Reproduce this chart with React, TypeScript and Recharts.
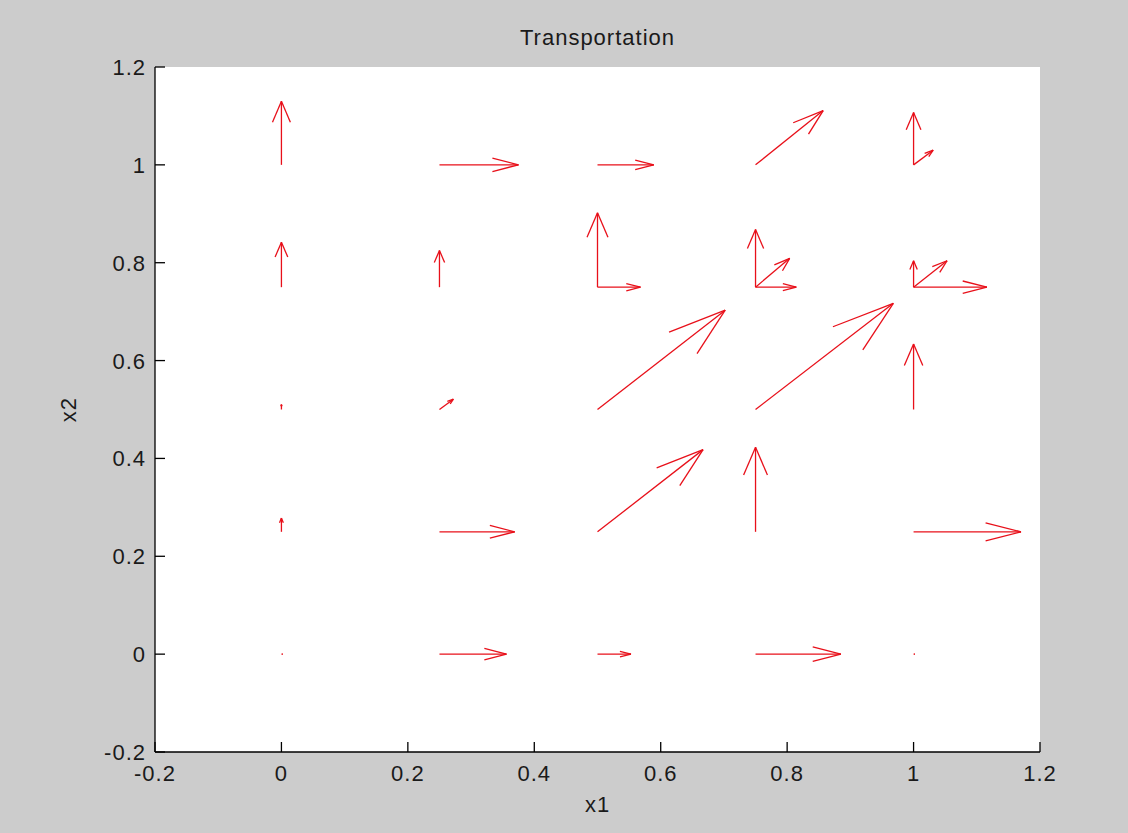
import React from "react";
import { ComposedChart, XAxis, YAxis, CartesianGrid, ReferenceLine, Scatter } from "recharts";

// quiver data: start point (x, y) and vector (u, v)
const startX = [0, 0.25, 0.5, 0.75, 1, 1, 0, 0.25, 0.5, 0.5, 0.75, 0.75, 0.75, 1, 1, 1, 0, 0.25, 0.5, 0.75, 1, 0, 0.25, 0.5, 0.75, 1, 0, 0.25, 0.5, 0.75, 1];
const startY = [1, 1, 1, 1, 1, 1, 0.75, 0.75, 0.75, 0.75, 0.75, 0.75, 0.75, 0.75, 0.75, 0.75, 0.5, 0.5, 0.5, 0.5, 0.5, 0.25, 0.25, 0.25, 0.25, 0.25, 0, 0, 0, 0, 0];
const vecU = [0, 0.125, 0.089, 0.107, 0, 0.031, 0, 0, 0, 0.068, 0, 0.054, 0.0645, 0, 0.053, 0.116, 0, 0.022, 0.202, 0.218, 0, 0, 0.119, 0.167, 0, 0.17, 0.002, 0.106, 0.053, 0.135, 0.002];
const vecV = [0.13, 0, 0, 0.111, 0.107, 0.03, 0.092, 0.075, 0.152, 0, 0.118, 0.059, 0, 0.054, 0.054, 0, 0.01, 0.021, 0.203, 0.217, 0.134, 0.028, 0, 0.168, 0.173, 0, 0, 0, 0, 0, 0];

const xTicks = [-0.2, 0, 0.2, 0.4, 0.6, 0.8, 1, 1.2];
const yTicks = [-0.2, 0, 0.2, 0.4, 0.6, 0.8, 1, 1.2];

const ALPHA = 0.33;
const BETA = 0.33;
const EPS = 2.2e-16;
const RED = "#e8101a";
const FONT = "'Liberation Sans', Arial, sans-serif";

const startPoints = startX.map((x, i) => ({ x, y: startY[i] }));

type Seg = [{ x: number; y: number }, { x: number; y: number }];
const segments: Seg[] = [];
startX.forEach((x, i) => {
  const y = startY[i];
  const u = vecU[i];
  const v = vecV[i];
  const tx = x + u;
  const ty = y + v;
  const b1x = tx - ALPHA * (u + BETA * (v + EPS));
  const b1y = ty - ALPHA * (v - BETA * (u + EPS));
  const b2x = tx - ALPHA * (u - BETA * (v + EPS));
  const b2y = ty - ALPHA * (v + BETA * (u + EPS));
  segments.push([{ x, y }, { x: tx, y: ty }]);
  segments.push([{ x: b1x, y: b1y }, { x: tx, y: ty }]);
  segments.push([{ x: b2x, y: b2y }, { x: tx, y: ty }]);
});

const XTick = (props: any) => {
  const { x, y, payload } = props;
  return (
    <g>
      <line x1={x} x2={x} y1={y} y2={y - 10} stroke="#000" strokeWidth={1.3} />
      <text x={x} y={y + 29} textAnchor="middle" fontSize={22} letterSpacing={1} fill="#1a1a1a" fontFamily={FONT}>
        {String(payload.value)}
      </text>
    </g>
  );
};

const YTick = (props: any) => {
  const { x, y, payload } = props;
  return (
    <g>
      <line x1={x} x2={x + 10} y1={y} y2={y} stroke="#000" strokeWidth={1.3} />
      <text x={x - 9} y={y + 8} textAnchor="end" fontSize={22} letterSpacing={1} fill="#1a1a1a" fontFamily={FONT}>
        {String(payload.value)}
      </text>
    </g>
  );
};

export default function App() {
  return (
    <div style={{ position: "fixed", left: 0, top: 0, width: 1128, height: 833, background: "#cccccc" }}>
      <div
        style={{
          position: "absolute",
          left: 155,
          width: 885,
          top: 23,
          textAlign: "center",
          fontFamily: FONT,
          fontSize: 22,
          letterSpacing: 1,
          color: "#1a1a1a",
          lineHeight: "30px",
        }}
      >
        Transportation
      </div>
      <ComposedChart width={1128} height={833} margin={{ top: 67, right: 88, bottom: 0, left: 0 }}>
        <CartesianGrid horizontal={false} vertical={false} fill="#ffffff" />
        <XAxis
          type="number"
          dataKey="x"
          domain={[-0.2, 1.2]}
          ticks={xTicks}
          allowDataOverflow
          height={81}
          tickSize={0}
          tickMargin={0}
          tickLine={false}
          tick={<XTick />}
          axisLine={{ stroke: "#000", strokeWidth: 1.3 }}
          label={(p: any) => {
            const vb = p.viewBox;
            return (
              <text x={vb.x + vb.width / 2} y={812} textAnchor="middle" fontSize={22} letterSpacing={1} fill="#1a1a1a" fontFamily={FONT}>
                x1
              </text>
            );
          }}
        />
        <YAxis
          type="number"
          dataKey="y"
          domain={[-0.2, 1.2]}
          ticks={yTicks}
          allowDataOverflow
          width={155}
          tickSize={0}
          tickMargin={0}
          tickLine={false}
          tick={<YTick />}
          axisLine={{ stroke: "#000", strokeWidth: 1.3 }}
          label={(p: any) => {
            const vb = p.viewBox;
            const cy = vb.y + vb.height / 2;
            return (
              <text x={76} y={cy} textAnchor="middle" fontSize={22} letterSpacing={1} fill="#1a1a1a" fontFamily={FONT} transform={`rotate(-90 76 ${cy})`}>
                x2
              </text>
            );
          }}
        />
        <Scatter data={startPoints} isAnimationActive={false} shape={() => <g />} />
        {segments.map((s, i) => (
          <ReferenceLine key={i} segment={s} stroke={RED} strokeWidth={1.3} ifOverflow="visible" />
        ))}
      </ComposedChart>
    </div>
  );
}
